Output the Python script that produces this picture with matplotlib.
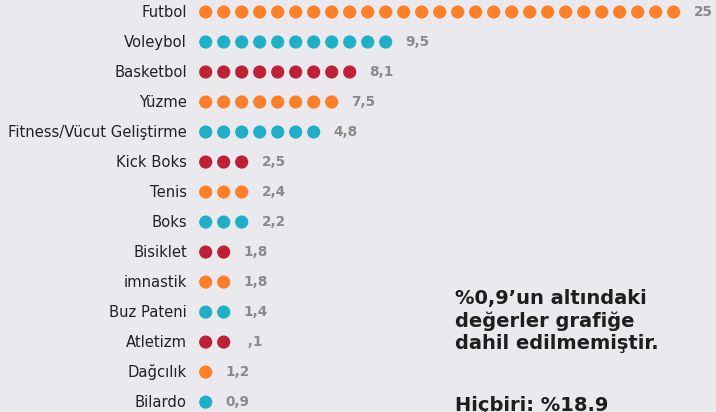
import matplotlib.pyplot as plt

# data
sports = ['Futbol', 'Voleybol', 'Basketbol', 'Yüzme', 'Fitness/Vücut Geliştirme',
          'Kick Boks', 'Tenis', 'Boks', 'Bisiklet', 'imnastik', 'Buz Pateni',
          'Atletizm', 'Dağcılık', 'Bilardo']
dot_counts = [27, 11, 9, 8, 7, 3, 3, 3, 2, 2, 2, 2, 1, 1]
value_labels = ['25', '9,5', '8,1', '7,5', '4,8', '2,5', '2,4', '2,2',
                '1,8', '1,8', '1,4', ' ,1', '1,2', '0,9']
palette = ['#FD7F28', '#1FB0C8', '#BE2136']  # orange, teal, red
row_colors = [palette[i % 3] for i in [0, 1, 2, 0, 1, 2, 0, 1, 2, 0, 1, 2, 0, 1]]

bg = '#E9E9EE'
fig = plt.figure(figsize=(7.16, 4.12), dpi=100, facecolor=bg)
ax = fig.add_axes([0, 0, 1, 1])
ax.set_facecolor(bg)

# dots: 18px apart, first at x=205.7px
for row, (n, c) in enumerate(zip(dot_counts, row_colors)):
    xs = list(range(n))
    ax.scatter(xs, [row] * n, s=90, color=c, edgecolors='none', zorder=3)
    ax.text(n - 1 + 1.1, row, value_labels[row], ha='left', va='center',
            fontsize=9.8, fontweight='bold', color='#8A8A8A')
    ax.text(-1.05, row, sports[row], ha='right', va='center',
            fontsize=10.6, color='#222222')

ax.set_xlim(-205.7 / 18, (716 - 205.7) / 18)
ax.set_ylim(13.33, -0.4)
ax.axis('off')

note = '%0,9’un altındaki\ndeğerler grafiğe\ndahil edilmemiştir.'
fig.text(455 / 716, 1 - 289 / 412, note, ha='left', va='top', fontsize=14,
         fontweight='bold', color='#1E1E1E', linespacing=1.22)
fig.text(455 / 716, 1 - 411 / 412, 'Hiçbiri: %18.9', ha='left', va='baseline',
         fontsize=14, fontweight='bold', color='#1E1E1E')

plt.savefig('out.png', dpi=100, facecolor=bg)
plt.close()
